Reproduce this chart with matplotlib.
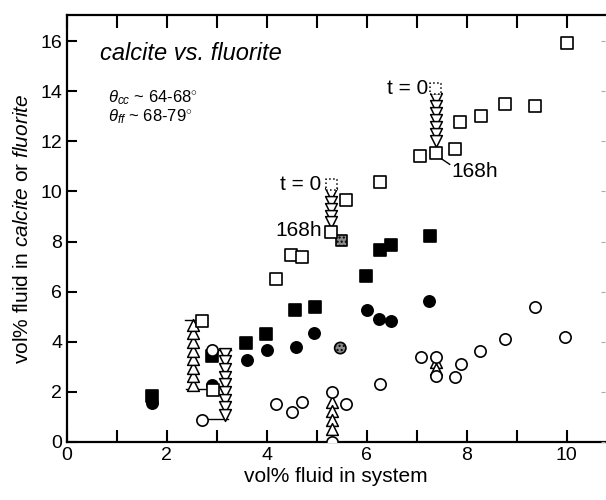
import numpy as np
import matplotlib
matplotlib.use("Agg")
import matplotlib.pyplot as plt

plt.rcParams['font.family'] = ['Liberation Sans', 'DejaVu Sans']
plt.rcParams['mathtext.fontset'] = 'custom'
plt.rcParams['mathtext.rm'] = 'Liberation Sans'
plt.rcParams['mathtext.it'] = 'Liberation Sans:italic'

# open squares
sq_open_x = [2.71, 2.93, 4.19, 4.49, 4.71, 5.29, 5.59, 6.26, 7.07, 7.38, 7.76, 7.87, 8.28, 8.76, 9.36, 10.0]
sq_open_y = [4.84, 2.08, 6.52, 7.48, 7.37, 8.38, 9.65, 10.37, 11.41, 11.52, 11.68, 12.77, 12.99, 13.48, 13.41, 15.93]
# filled squares
sq_fill_x = [1.71, 2.91, 3.59, 3.99, 4.57, 4.96, 5.99, 6.26, 6.48, 7.26]
sq_fill_y = [1.85, 3.44, 3.97, 4.31, 5.25, 5.37, 6.61, 7.68, 7.85, 8.21]
sq_gray_x, sq_gray_y = [5.49], [8.03]
# t = 0 squares
sq_t0_x = [7.38, 5.29]
sq_t0_y = [14.1, 10.27]

# filled circles
ci_fill_x = [1.71, 2.91, 3.60, 4.01, 4.59, 4.95, 6.01, 6.24, 6.48, 7.24]
ci_fill_y = [1.57, 2.28, 3.28, 3.68, 3.79, 4.35, 5.28, 4.91, 4.81, 5.61]
ci_gray_x, ci_gray_y = [5.47], [3.75]
# open circles
ci_open_x = [2.71, 2.91, 4.19, 4.51, 4.71, 5.31, 5.31, 5.58, 6.26, 7.08, 7.39, 7.39, 7.77, 7.88, 8.26, 8.76, 9.36, 9.96]
ci_open_y = [0.88, 3.68, 1.52, 1.19, 1.59, 1.99, 0.0, 1.52, 2.32, 3.41, 3.41, 2.65, 2.61, 3.11, 3.65, 4.11, 5.37, 4.19]

# time series columns (triangles)
up1_x, up1_y = 2.53, [2.28, 2.62, 2.97, 3.31, 3.65, 3.99, 4.34, 4.68]
dn1_x, dn1_y = 3.17, [3.52, 3.22, 2.91, 2.61, 2.30, 2.00, 1.69, 1.39, 1.08]
dn2_x, dn2_y = 7.38, [13.70, 13.42, 13.13, 12.85, 12.57, 12.28, 12.00]
dn3_x, dn3_y = 5.29, [9.90, 9.58, 9.29, 9.01, 8.76]
up2_x, up2_y = 5.31, [1.58, 1.23, 0.88, 0.52]
up3_x, up3_y = 7.39, [3.18, 2.92]

# bracket lines (x pair, y pair)
brackets = [
    ([2.36, 2.69], [4.85, 4.85]),
    ([2.39, 2.85], [2.11, 2.11]),
    ([3.00, 3.29], [3.68, 3.68]),
    ([2.74, 3.23], [0.93, 0.93]),
    ([7.46, 7.66], [11.35, 11.08]),
]

fig = plt.figure(figsize=(6.06, 5.0), dpi=100)
ax = fig.add_axes([0.1106, 0.116, 0.887, 0.854])

for bx, by in brackets:
    ax.plot(bx, by, color='black', lw=1.0, zorder=1)

ms = 66
kw_open = dict(facecolor='white', edgecolor='black', linewidths=1.2, zorder=3)
kw_fill = dict(facecolor='black', edgecolor='black', linewidths=1.2, zorder=2)

ax.scatter(sq_fill_x, sq_fill_y, marker='s', s=ms, **kw_fill)
ax.scatter(ci_fill_x, ci_fill_y, marker='o', s=ms, **kw_fill)
ax.scatter(sq_gray_x, sq_gray_y, marker='s', s=ms, facecolor='#8a8a8a', edgecolor='black',
           linewidths=1.2, hatch='....', zorder=2)
ax.scatter(ci_gray_x, ci_gray_y, marker='o', s=ms, facecolor='#8a8a8a', edgecolor='black',
           linewidths=1.2, hatch='....', zorder=2)

for cx, cy, mk in [(up1_x, up1_y, '^'), (dn1_x, dn1_y, 'v'), (dn2_x, dn2_y, 'v'),
                   (dn3_x, dn3_y, 'v'), (up2_x, up2_y, '^'), (up3_x, up3_y, '^')]:
    ax.scatter([cx] * len(cy), cy, marker=mk, s=72, facecolor='white', edgecolor='black',
               linewidths=1.1, zorder=3)

ax.scatter(ci_open_x, ci_open_y, marker='o', s=ms, **kw_open)
ax.scatter(sq_open_x, sq_open_y, marker='s', s=ms, **kw_open)
ax.scatter(sq_t0_x, sq_t0_y, marker='s', s=ms, facecolor='white', edgecolor='black',
           linewidths=1.1, linestyle=':', zorder=3)

# annotations
ax.text(7.24, 14.1, 't = 0', fontsize=15, ha='right', va='center')
ax.text(5.08, 10.28, 't = 0', fontsize=15, ha='right', va='center')
ax.text(7.69, 10.8, '168h', fontsize=15, ha='left', va='center')
ax.text(5.1, 8.45, '168h', fontsize=15, ha='right', va='center')
ax.text(0.66, 15.5, 'calcite vs. fluorite', fontsize=17, style='italic', ha='left', va='center')
ax.text(0.82, 13.75, r'$\theta_{cc}$ ~ 64-68$^{\circ}$', fontsize=12, ha='left', va='center')
ax.text(0.82, 13.0, r'$\theta_{ff}$ ~ 68-79$^{\circ}$', fontsize=12, ha='left', va='center')

ax.set_xlim(0, 10.76)
ax.set_ylim(0, 17.04)
ax.set_xticks(np.arange(0, 11, 2))
ax.set_xticks(np.arange(1, 11, 2), minor=True)
ax.set_yticks(np.arange(0, 17, 2))
ax.tick_params(axis='both', which='both', direction='in', labelsize=14, width=1.5)
ax.tick_params(axis='x', which='both', length=9, top=True)
ax.tick_params(axis='y', which='both', length=7)
for side in ['left', 'bottom', 'top']:
    ax.spines[side].set_linewidth(1.6)
ax.spines['right'].set_visible(False)

# faint marks on the right edge
ax2 = ax.twinx()
ax2.set_ylim(ax.get_ylim())
ax2.set_yticks(np.arange(0, 17, 2))
ax2.set_yticklabels([])
ax2.tick_params(direction='in', length=3, width=0.8, color='#aaaaaa')
for side in ['left', 'bottom', 'top', 'right']:
    ax2.spines[side].set_visible(False)

ax.set_xlabel('vol% fluid in system', fontsize=15, labelpad=2)
ax.set_ylabel(r'vol% fluid in $\it{calcite}$ or $\it{fluorite}$', fontsize=15, labelpad=6)

fig.savefig('out.png', dpi=100)
